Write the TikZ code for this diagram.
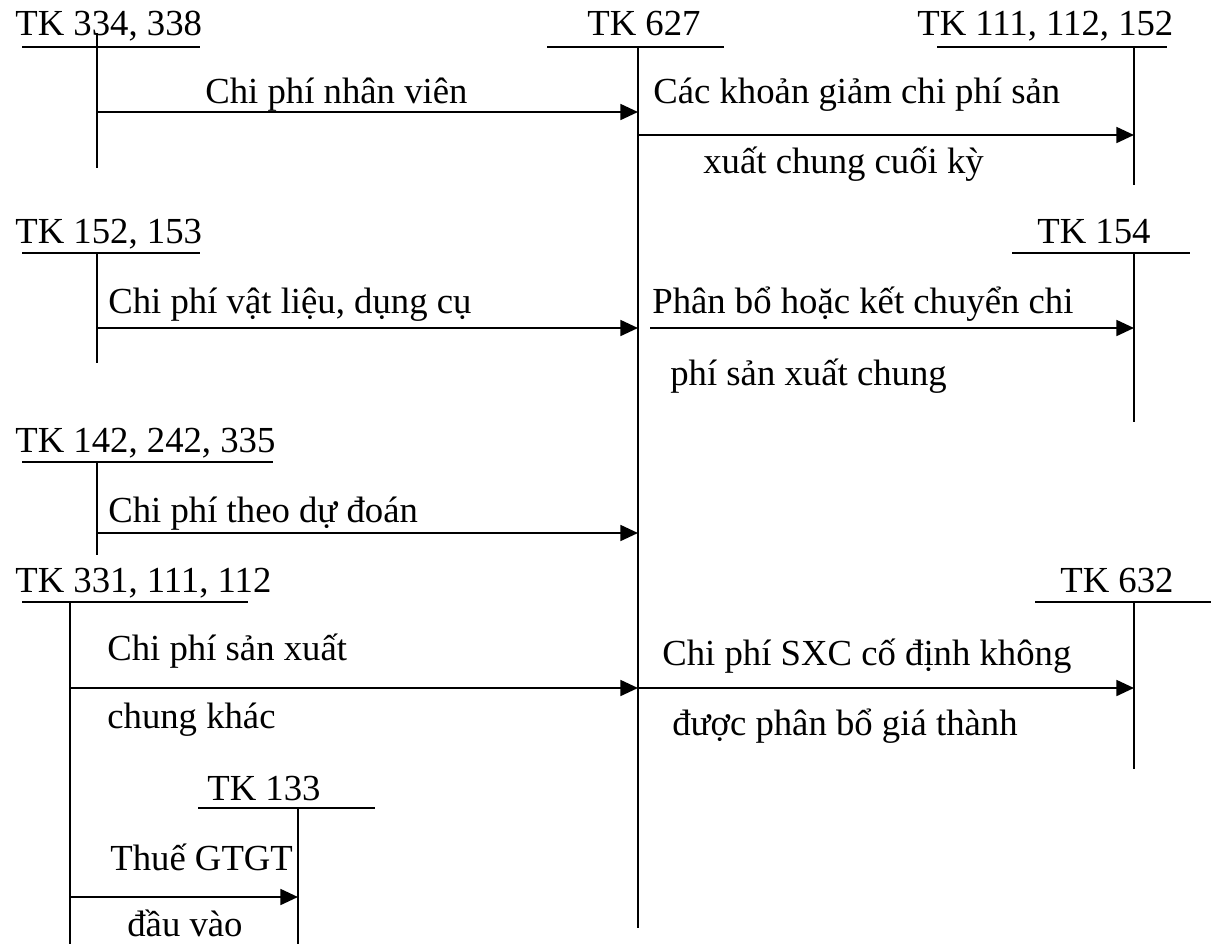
\documentclass[tikz,border=0pt]{standalone}
\usepackage{fontspec}
\setmainfont{Liberation Serif}
\usetikzlibrary{arrows.meta}
\begin{document}
\begin{tikzpicture}[x=0.02cm,y=-0.02cm,
  ln/.style={line width=1.3pt},
  flow/.style={line width=1.3pt,-{Triangle[length=10pt,width=9pt]}},
  txt/.style={anchor=base west,inner sep=0pt,font=\fontsize{20.9pt}{24pt}\selectfont}]
\useasboundingbox (0,0) rectangle (1211,944);

% ---- account titles ----
\node[txt] (t334) at (15,35)   {TK 334, 338};
\node[txt] (t627) at (587,35)  {TK 627};
\node[txt] (t111) at (917,35)  {TK 111, 112, 152};
\node[txt] (t152) at (15,243)  {TK 152, 153};
\node[txt] (t154) at (1037,243) {TK 154};
\node[txt] (t142) at (15,452)  {TK 142, 242, 335};
\node[txt] (t331) at (15,592)  {TK 331, 111, 112};
\node[txt] (t632) at (1060,592) {TK 632};
\node[txt] (t133) at (207,800) {TK 133};

% ---- T-account skeletons ----
\draw[ln] (22,47) -- (200,47);     \draw[ln] (97,33) -- (97,168);
\draw[ln] (547,47) -- (724,47);    \draw[ln] (638,47) -- (638,928);
\draw[ln] (937,47) -- (1167,47);   \draw[ln] (1134,47) -- (1134,185);
\draw[ln] (22,253) -- (200,253);   \draw[ln] (97,253) -- (97,363);
\draw[ln] (1012,253) -- (1190,253);\draw[ln] (1134,253) -- (1134,422);
\draw[ln] (22,462) -- (273,462);   \draw[ln] (97,462) -- (97,555);
\draw[ln] (22,602) -- (248,602);   \draw[ln] (70,602) -- (70,944);
\draw[ln] (1035,602) -- (1211,602);\draw[ln] (1134,602) -- (1134,769);
\draw[ln] (198,808) -- (375,808);  \draw[ln] (298,808) -- (298,944);

% ---- connector end points ----
\coordinate (s1) at (97,112);   \coordinate (e1) at (638,112);
\coordinate (s2) at (638,135);  \coordinate (e2) at (1134,135);
\coordinate (s3) at (97,328);   \coordinate (e3) at (638,328);
\coordinate (s4) at (650,328);  \coordinate (e4) at (1134,328);
\coordinate (s5) at (97,533);   \coordinate (e5) at (638,533);
\coordinate (s6) at (70,688);   \coordinate (e6) at (638,688);
\coordinate (e7) at (1134,688);
\coordinate (s8) at (70,897);   \coordinate (e8) at (298,897);

\draw[flow] (s1) -- (e1);
\draw[flow] (s2) -- (e2);
\draw[flow] (s3) -- (e3);
\draw[flow] (s4) -- (e4);
\draw[flow] (s5) -- (e5);
\draw[flow] (s6) -- (e6);
\draw[flow] (e6) -- (e7);
\draw[flow] (s8) -- (e8);

% ---- entry labels ----
\node[txt] (l1)  at (205,103) {Chi phí nhân viên};
\node[txt] (l2a) at (653,103) {Các khoản giảm chi phí sản};
\node[txt] (l2b) at (703,173) {xuất chung cuối kỳ};
\node[txt] (l3)  at (108,313) {Chi phí vật liệu, dụng cụ};
\node[txt] (l4a) at (652,313) {Phân bổ hoặc kết chuyển chi};
\node[txt] (l4b) at (670,385) {phí sản xuất chung};
\node[txt] (l5)  at (108,522) {Chi phí theo dự đoán};
\node[txt] (l6a) at (107,660) {Chi phí sản xuất};
\node[txt] (l6b) at (107,728) {chung khác};
\node[txt] (l7a) at (662,665) {Chi phí SXC cố định không};
\node[txt] (l7b) at (672,735) {được phân bổ giá thành};
\node[txt] (l8a) at (110,870) {Thuế GTGT};
\node[txt] (l8b) at (127,936) {đầu vào};
\end{tikzpicture}
\end{document}
